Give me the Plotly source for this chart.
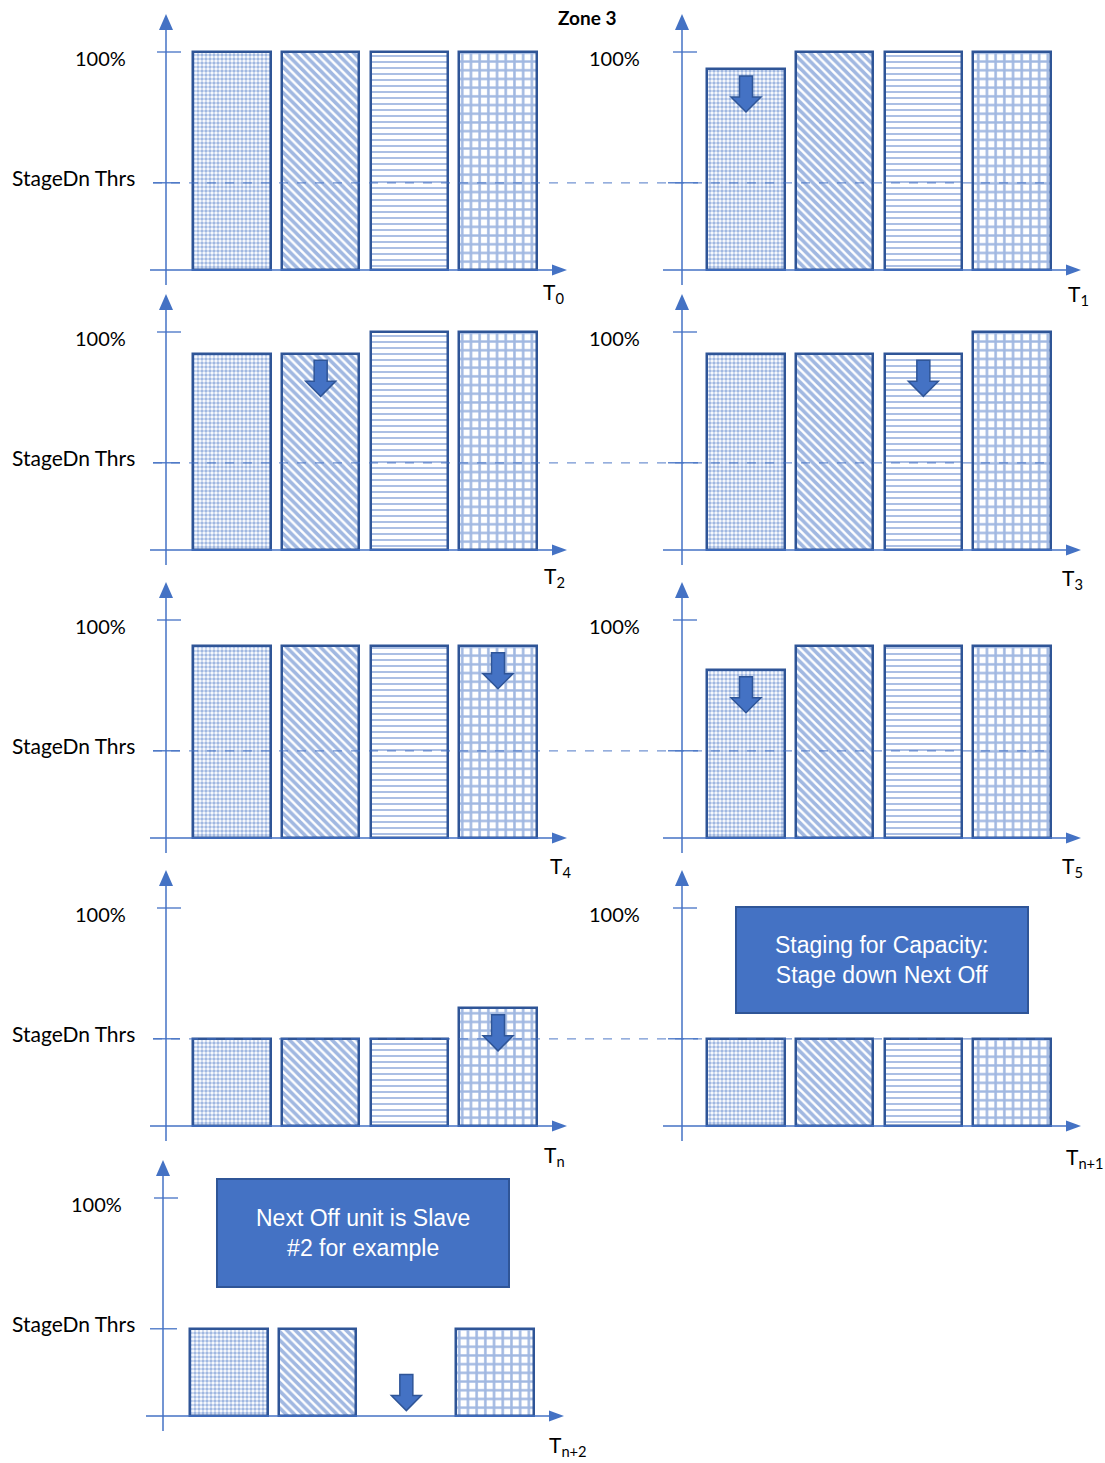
import plotly.graph_objects as go

# ---- data -------------------------------------------------------------
units = ["Unit 1", "Unit 2", "Unit 3", "Unit 4"]
time_labels = ["T<sub>0</sub>", "T<sub>1</sub>", "T<sub>2</sub>", "T<sub>3</sub>",
               "T<sub>4</sub>", "T<sub>5</sub>", "T<sub>n</sub>", "T<sub>n+1</sub>",
               "T<sub>n+2</sub>"]

load_t0 = [100, 100, 100, 100]
load_t1 = [92, 100, 100, 100]
load_t2 = [90, 90, 100, 100]
load_t3 = [90, 90, 90, 100]
load_t4 = [88, 88, 88, 88]
load_t5 = [77, 88, 88, 88]
load_tn = [40, 40, 40, 54]
load_tn1 = [40, 40, 40, 40]
load_tn2 = [40, 40, None, 40]

# unit whose load is being reduced in each step (None = no arrow)
arrow_unit = [None, 0, 1, 2, 3, 0, 3, None, 2]

full_load = 100
stagedn_thrs = 40

title_text = "Zone 3"
box_texts = ["Staging for Capacity:<br>Stage down Next Off",
             "Next Off unit is Slave<br>#2 for example"]

# ---- styling / layout -------------------------------------------------
W, H = 1105, 1463
BLUE = "#4472C4"
DARK = "#2F5597"
LABEL_FONT = "Lato"
BOX_FONT = "Liberation Sans"
PX_PER_PCT = 2.18      # vertical pixels per percent of load
PX_PER_UNIT = 88.67    # horizontal pixels between bar centres

row_base = [270, 550, 838, 1126, 1416]
# (first bar centre, y-axis x, x-axis start, x-axis end) for each column
col_geom = {
    "L": (232, 166, 150, 567),
    "R": (746, 682, 663, 1081),
    "L5": (229, 163, 146, 564),
}
panel_loads = [load_t0, load_t1, load_t2, load_t3, load_t4, load_t5,
               load_tn, load_tn1, load_tn2]
panel_pos = [(0, "L"), (0, "R"), (1, "L"), (1, "R"), (2, "L"), (2, "R"),
             (3, "L"), (3, "R"), (4, "L5")]
time_label_px = [(553, 293), (1078, 295), (554, 577), (1072, 579), (560, 867),
                 (1072, 867), (554, 1156), (1085, 1158), (568, 1446)]


def fx(x):
    return x / W


def fy(y):
    return 1 - y / H


fig = go.Figure()
shapes = []
annotations = []
layout_axes = {}

patterns = dict(shape=[".", "\\", "-", "+"],
                fgcolor=BLUE, bgcolor="white",
                size=[4, 6, 6, 8.7],
                solidity=[0.6, 0.6, 0.3, 0.5],
                fillmode="overlay")

for k, (vals, (row, col)) in enumerate(zip(panel_loads, panel_pos)):
    s = "" if k == 0 else str(k + 1)
    base = row_base[row]
    c0, yax, xs, xe = col_geom[col]
    x_lo, x_hi = yax - 30, yax + 420
    y_bot, y_top = base + 20, base - 265
    layout_axes[f"xaxis{s}"] = dict(
        domain=[fx(x_lo), fx(x_hi)],
        range=[(x_lo - c0) / PX_PER_UNIT, (x_hi - c0) / PX_PER_UNIT],
        visible=False, fixedrange=True, anchor=f"y{s}")
    layout_axes[f"yaxis{s}"] = dict(
        domain=[fy(y_bot), fy(y_top)],
        range=[-(y_bot - base) / PX_PER_PCT, (base - y_top) / PX_PER_PCT],
        visible=False, fixedrange=True, anchor=f"x{s}")

    fig.add_trace(go.Bar(
        x=list(range(len(units))), y=vals, width=0.87,
        name=time_labels[k], hovertext=units, hoverinfo="skip",
        xaxis=f"x{s}", yaxis=f"y{s}", showlegend=False,
        marker=dict(color="white", line=dict(color=DARK, width=2.5),
                    pattern=patterns)))

    # axes with arrowheads
    shapes.append(dict(type="line", xref="paper", yref="paper",
                       x0=fx(yax), x1=fx(yax), y0=fy(base + 15), y1=fy(base - 242),
                       line=dict(color=BLUE, width=1.5)))
    shapes.append(dict(type="path", xref="paper", yref="paper",
                       path=f"M {fx(yax)},{fy(base - 256)} L {fx(yax + 7)},{fy(base - 240)} "
                            f"L {fx(yax - 7)},{fy(base - 240)} Z",
                       fillcolor=BLUE, line=dict(width=0)))
    shapes.append(dict(type="line", xref="paper", yref="paper",
                       x0=fx(xs), x1=fx(xe - 14), y0=fy(base), y1=fy(base),
                       line=dict(color=BLUE, width=1.5)))
    shapes.append(dict(type="path", xref="paper", yref="paper",
                       path=f"M {fx(xe)},{fy(base)} L {fx(xe - 15)},{fy(base - 5.5)} "
                            f"L {fx(xe - 15)},{fy(base + 5.5)} Z",
                       fillcolor=BLUE, line=dict(width=0)))

    # ticks for 100 % and the stage-down threshold
    y_full = base - full_load * PX_PER_PCT
    y_thr = base - stagedn_thrs * PX_PER_PCT
    shapes.append(dict(type="line", xref="paper", yref="paper",
                       x0=fx(yax - 9), x1=fx(yax + 15), y0=fy(y_full), y1=fy(y_full),
                       line=dict(color=BLUE, width=1.3)))
    if col == "R":
        shapes.append(dict(type="line", xref="paper", yref="paper",
                           x0=fx(yax - 14), x1=fx(yax + 16), y0=fy(y_thr), y1=fy(y_thr),
                           line=dict(color=BLUE, width=1.3)))
    else:
        shapes.append(dict(type="line", xref="paper", yref="paper",
                           x0=fx(yax - 13), x1=fx(yax + 14), y0=fy(y_thr), y1=fy(y_thr),
                           line=dict(color=BLUE, width=1.3)))
        annotations.append(dict(text="StageDn Thrs", xref="paper", yref="paper",
                                x=fx(137), y=fy(y_thr - 5), xanchor="right",
                                yanchor="middle", showarrow=False,
                                font=dict(family=LABEL_FONT, size=21, color="black")))
        if row < 4:
            shapes.append(dict(type="line", xref="paper", yref="paper",
                               x0=fx(yax - 13), x1=fx(1051), y0=fy(y_thr), y1=fy(y_thr),
                               layer="above", opacity=0.75,
                               line=dict(color=BLUE, width=1.2, dash="dash")))

    annotations.append(dict(text="100%", xref="paper", yref="paper",
                            x=fx(yax - 66 if col != "R" else yax - 68), y=fy(y_full + 6),
                            xanchor="center", yanchor="middle", showarrow=False,
                            font=dict(family=LABEL_FONT, size=20, color="black")))

    tx, ty = time_label_px[k]
    annotations.append(dict(text=time_labels[k], xref="paper", yref="paper",
                            x=fx(tx), y=fy(ty), xanchor="center", yanchor="middle",
                            showarrow=False,
                            font=dict(family=LABEL_FONT, size=21, color="black")))

    # block arrow showing the unit being reduced
    u = arrow_unit[k]
    if u is not None:
        v = vals[u]
        top = v - 3 if v else 19
        sw, hw = 6.5 / PX_PER_UNIT, 15 / PX_PER_UNIT
        length, head = 36 / PX_PER_PCT, 15 / PX_PER_PCT
        neck = top - (length - head)
        tip = top - length
        path = (f"M {u - sw},{top} L {u + sw},{top} L {u + sw},{neck} "
                f"L {u + hw},{neck} L {u},{tip} L {u - hw},{neck} "
                f"L {u - sw},{neck} Z")
        shapes.append(dict(type="path", xref=f"x{s}", yref=f"y{s}", path=path,
                           layer="above", fillcolor=BLUE,
                           line=dict(color=DARK, width=1.5)))

# text boxes
for (x0, y0, x1, y1), txt in zip([(736, 907, 1028, 1013), (217, 1179, 509, 1287)],
                                 box_texts):
    shapes.append(dict(type="rect", xref="paper", yref="paper",
                       x0=fx(x0), x1=fx(x1), y0=fy(y1), y1=fy(y0),
                       fillcolor=BLUE, line=dict(color=DARK, width=2)))
    annotations.append(dict(text=txt, xref="paper", yref="paper",
                            x=fx((x0 + x1) / 2), y=fy((y0 + y1) / 2),
                            xanchor="center", yanchor="middle", showarrow=False,
                            font=dict(family=BOX_FONT, size=23, color="white")))

annotations.append(dict(text=f"<b>{title_text}</b>", xref="paper", yref="paper",
                        x=fx(587), y=fy(17), xanchor="center", yanchor="middle",
                        showarrow=False,
                        font=dict(family=LABEL_FONT, size=19, color="black")))

fig.update_layout(
    width=W, height=H,
    margin=dict(l=0, r=0, t=0, b=0),
    paper_bgcolor="white", plot_bgcolor="rgba(0,0,0,0)",
    barmode="overlay", bargap=0,
    shapes=shapes, annotations=annotations,
    **layout_axes,
)

fig.write_html("out.html")
